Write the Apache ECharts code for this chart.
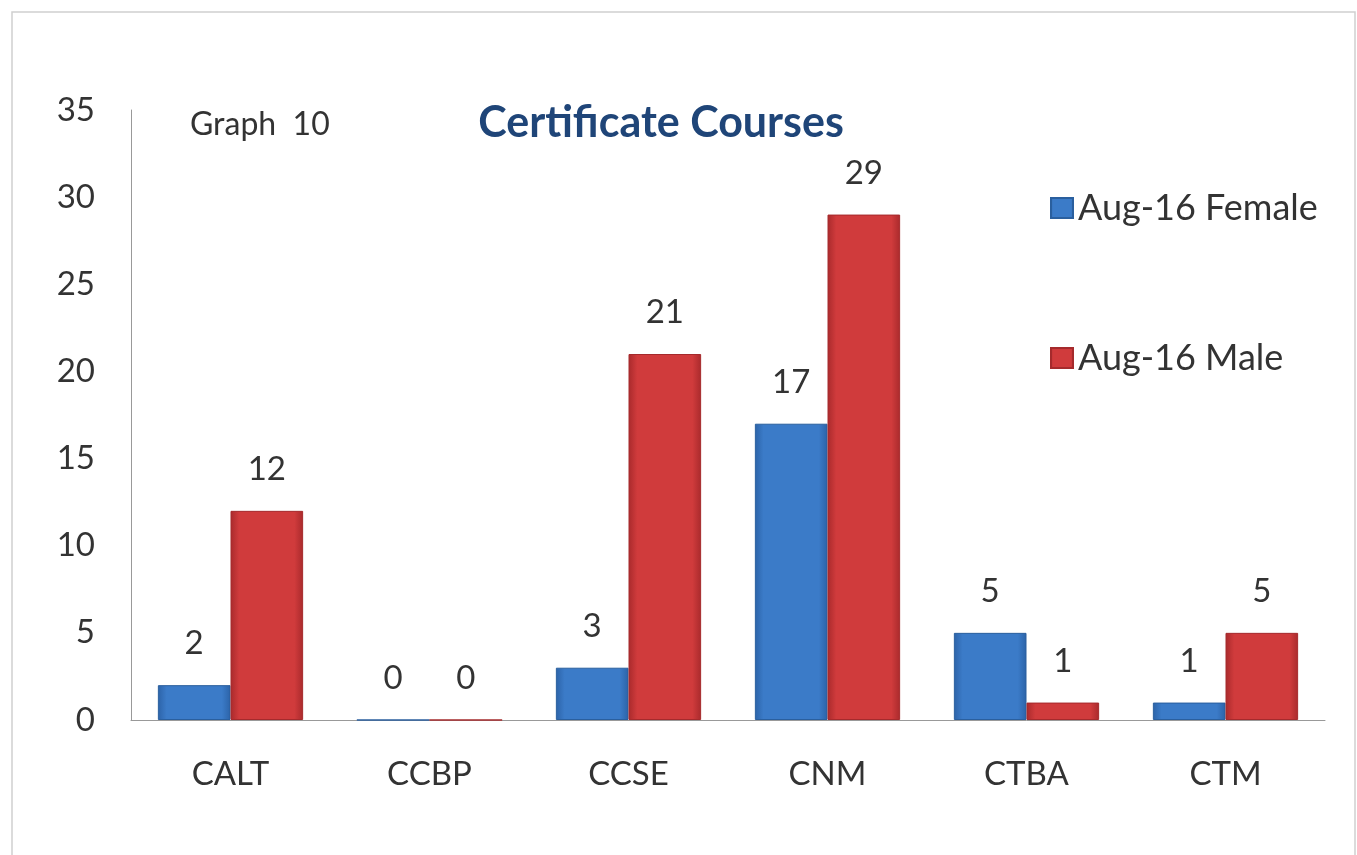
<!DOCTYPE html>
<html>
<head>
<meta charset="utf-8">
<script src="https://cdn.jsdelivr.net/npm/echarts@6/dist/echarts.min.js"></script>
<style>
  html, body { margin: 0; padding: 0; background: #fff; }
  #chart { width: 1357px; height: 855px; }
</style>
</head>
<body>
<div id="chart"></div>
<script>
// data
const categories = ['CALT', 'CCBP', 'CCSE', 'CNM', 'CTBA', 'CTM']
const femaleVals = [2, 0, 3, 17, 5, 1]
const maleVals = [12, 0, 21, 29, 1, 5]
const yTicks = { min: 0, max: 35, interval: 5 }

const font = 'Lato, "Open Sans", sans-serif'

const barGrad = (dark, mid) => new echarts.graphic.LinearGradient(0, 0, 1, 0, [
  { offset: 0, color: dark },
  { offset: 0.12, color: mid },
  { offset: 0.88, color: mid },
  { offset: 1, color: dark }
])

const blue = barGrad('#2c63a8', '#3b7bc8')
const red = barGrad('#a92a2c', '#d03b3c')

const chart = echarts.init(document.getElementById('chart'))

const legendBase = {
  orient: 'vertical',
  left: 1045,
  icon: 'rect',
  itemWidth: 22,
  itemHeight: 20,
  itemGap: 8,
  textStyle: { fontFamily: font, fontSize: 36, color: '#333' }
}

chart.setOption({
  backgroundColor: '#fff',
  animation: false,
  graphic: [
    {
      type: 'rect',
      shape: { x: 12, y: 12, width: 1343, height: 850 },
      style: { fill: 'none', stroke: '#d0d0d0', lineWidth: 1.5 },
      silent: true
    },
    {
      type: 'text',
      left: 190,
      top: 109,
      style: { text: 'Graph  10', font: '32px ' + font, fill: '#333' }
    }
  ],
  title: {
    text: 'Certificate Courses',
    left: 656,
    top: 97,
    textAlign: 'center',
    textStyle: { fontFamily: font, fontSize: 43, fontWeight: 'bold', color: '#1f4578' }
  },
  legend: [
    Object.assign({ data: ['Aug-16 Female'], top: 185 }, legendBase),
    Object.assign({ data: ['Aug-16 Male'], top: 335 }, legendBase)
  ],
  grid: { left: 131, right: 32, top: 110, bottom: 135 },
  xAxis: {
    type: 'category',
    data: categories,
    axisLine: { lineStyle: { color: '#999', width: 1 } },
    axisTick: { show: false },
    axisLabel: { margin: 38, fontFamily: font, fontSize: 33, color: '#333' }
  },
  yAxis: {
    type: 'value',
    min: yTicks.min,
    max: yTicks.max,
    interval: yTicks.interval,
    axisLine: { show: true, lineStyle: { color: '#999', width: 1 } },
    axisTick: { show: false },
    splitLine: { show: false },
    axisLabel: { margin: 36, fontFamily: font, fontSize: 33, color: '#333' }
  },
  series: [
    {
      name: 'Aug-16 Female',
      type: 'bar',
      data: femaleVals,
      barGap: '0%',
      barCategoryGap: '27%',
      itemStyle: { color: blue, borderColor: '#2a5f9e', borderWidth: 1 },
      label: { show: true, position: 'top', distance: 25, fontFamily: font, fontSize: 33, color: '#333' }
    },
    {
      name: 'Aug-16 Male',
      type: 'bar',
      data: maleVals,
      barGap: '0%',
      barCategoryGap: '27%',
      itemStyle: { color: red, borderColor: '#a52a2c', borderWidth: 1 },
      label: { show: true, position: 'top', distance: 25, fontFamily: font, fontSize: 33, color: '#333' }
    }
  ]
})
</script>
</body>
</html>
